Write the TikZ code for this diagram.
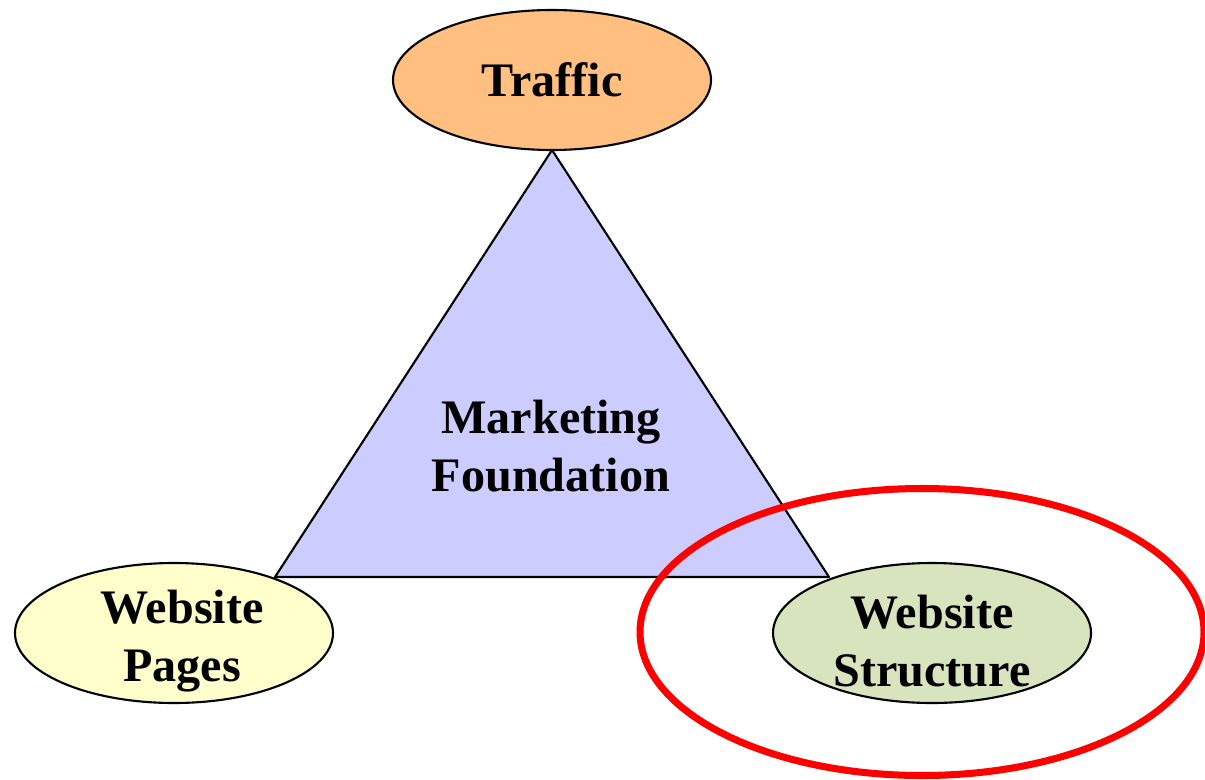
\documentclass[tikz,border=0pt]{standalone}
\usepackage{fontspec}
\setmainfont{Liberation Serif}
\usepackage{tikz}
\usetikzlibrary{shapes.geometric}
\definecolor{trafficfill}{HTML}{FFBF80}
\definecolor{basefill}{HTML}{CCCCFF}
\definecolor{pagesfill}{HTML}{FFFFCC}
\definecolor{structfill}{HTML}{D7E4BD}
\tikzstyle{words}=[font=\bfseries\fontsize{13.7}{16.5}\selectfont, align=center]
\tikzstyle{topic}=[words, draw, ellipse, line width=0.6pt, inner sep=0pt, minimum width=3.18cm, minimum height=1.40cm]
\tikzstyle{focus}=[draw=red, ellipse, line width=2pt, inner sep=0pt, minimum width=5.64cm, minimum height=2.87cm]

\begin{document}
\begin{tikzpicture}
        \useasboundingbox (0, 0) rectangle (12.05, 7.79);
        \coordinate (apex) at (5.52, 6.29);
        \coordinate (baseL) at (2.75, 2.02);
        \coordinate (baseR) at (8.29, 2.02);
        \draw[fill=basefill, line width=0.6pt, line join=round] (apex) -- (baseL) -- (baseR) -- cycle;
        \node[words]                     (mkt) at (5.51, 3.33) {Marketing\\Foundation};
        \node[topic, fill=trafficfill]   (traffic) at (5.52, 6.99) {Traffic};
        \node[topic, fill=pagesfill, label={[words, xshift=0.08cm, yshift=-0.08cm]center:Website\\Pages}]  (pages) at (1.74, 1.46) {};
        \node[topic, fill=structfill, label={[words, yshift=-0.08cm]center:Website\\Structure}]             (struct) at (9.32, 1.46) {};
        \node[focus]                     (ring) at (9.22, 1.47) {};
    \end{tikzpicture}
\end{document}
